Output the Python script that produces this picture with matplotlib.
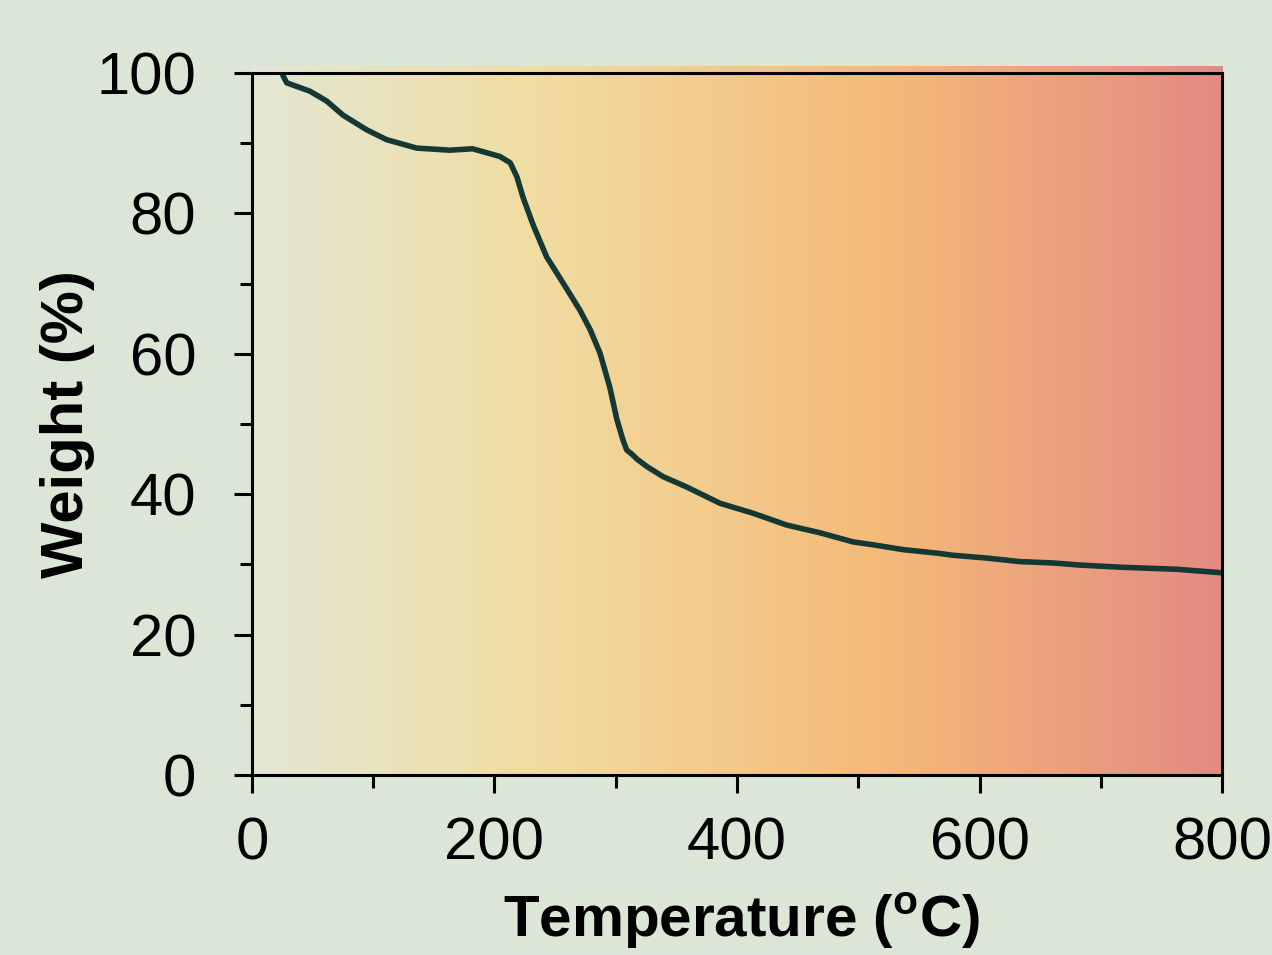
import numpy as np
import matplotlib
matplotlib.use('Agg')
import matplotlib.pyplot as plt
from matplotlib.colors import LinearSegmentedColormap

# TGA curve
temp = [24.5, 28.6, 47.8, 61.6, 75, 94.6, 111, 135.8, 163, 182, 204.5, 213, 218.5, 223.5,
        232, 243, 256.5, 270.5, 279, 287, 295, 301, 306, 309, 314, 317.5, 326, 339, 358.8,
        386, 413, 441, 468.5, 495.7, 512, 537, 565, 578, 606, 633, 661, 683, 716, 763, 800]
weight = [100, 98.6, 97.4, 96.0, 94.0, 91.9, 90.5, 89.3, 89.0, 89.2, 88.1, 87.2, 85.2, 82.3,
          78.3, 73.8, 70.1, 66.2, 63.4, 60.1, 55.3, 50.6, 47.7, 46.3, 45.6, 45.0, 43.9, 42.5, 41.0,
          38.7, 37.3, 35.6, 34.5, 33.2, 32.8, 32.1, 31.6, 31.3, 30.9, 30.4, 30.2, 29.9, 29.6, 29.3, 28.8]

x_ticks = [0, 200, 400, 600, 800]
y_ticks = [0, 20, 40, 60, 80, 100]

plt.rcParams['font.family'] = ['Liberation Sans', 'DejaVu Sans']
plt.rcParams['mathtext.fontset'] = 'custom'
plt.rcParams['mathtext.rm'] = 'Liberation Sans'
plt.rcParams['mathtext.bf'] = 'Liberation Sans:bold'

bg = '#dce6d6'
fig = plt.figure(figsize=(12.72, 9.55), dpi=100, facecolor=bg)
ax = fig.add_axes([0.1981, 0.1885, 0.7626, 0.7351])

# background gradient
cmap = LinearSegmentedColormap.from_list('heat', [(0.0, '#e3e7d5'), (0.28, '#f1dda3'),
                                                  (0.65, '#f5ba78'), (1.0, '#e38a83')])
grad = np.linspace(0, 1, 512).reshape(1, -1)
ax.imshow(grad, cmap=cmap, aspect='auto', extent=[0, 800, 0, 100.9], clip_on=False, zorder=0)

ax.plot(temp, weight, color='#143834', lw=4.0, solid_capstyle='round', zorder=3)

ax.set_xlim(0, 800)
ax.set_ylim(0, 100)
ax.set_xticks(x_ticks)
ax.set_yticks(y_ticks)
ax.set_xticks(np.arange(100, 800, 200), minor=True)
ax.set_yticks(np.arange(10, 100, 20), minor=True)

for s in ax.spines.values():
    s.set_linewidth(2.2)
    s.set_zorder(4)
ax.tick_params(which='major', direction='out', length=13, width=2.2, labelsize=43)
ax.tick_params(which='minor', direction='out', length=9, width=2.2)
ax.tick_params(axis='x', which='major', pad=17)
ax.tick_params(axis='y', which='major', pad=27)

ax.set_xlabel(r'Temperature ($^{\mathbf{o}}$C)', fontsize=42, fontweight='bold')
ax.set_ylabel('Weight (%)', fontsize=43, fontweight='bold')
ax.xaxis.set_label_coords(0.505, -0.164)
ax.yaxis.set_label_coords(-0.162, 0.5)

fig.savefig('out.png', dpi=100, facecolor=bg)
